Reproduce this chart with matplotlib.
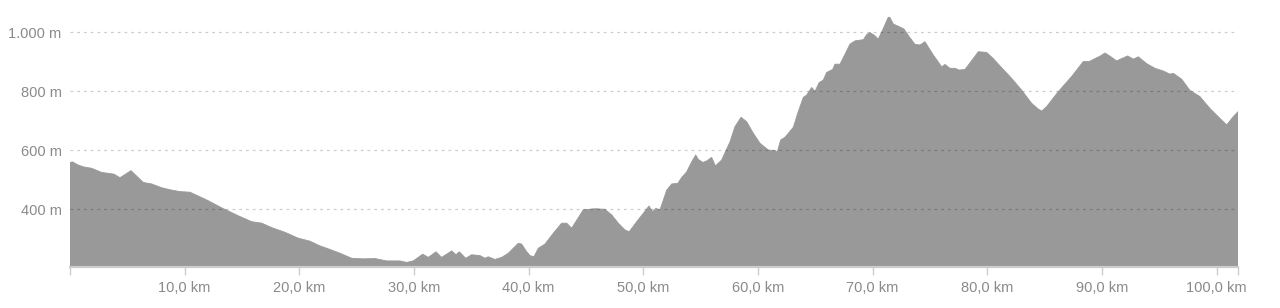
import matplotlib
matplotlib.use("Agg")
import matplotlib.pyplot as plt
from matplotlib.ticker import FixedLocator, FuncFormatter

# elevation profile: distance in km, elevation in m
distance_km = [
    0.0, 0.2, 0.72, 1.16, 1.89, 2.76, 3.34, 3.84, 4.36, 5.32,
    6.39, 7.12, 8.0, 8.87, 9.59, 10.46, 11.19, 12.06, 13.23, 14.68,
    15.85, 16.72, 17.59, 18.75, 19.91, 20.93, 21.8, 22.67, 23.55, 24.57,
    25.58, 26.6, 27.62, 28.78, 29.36, 29.94, 30.76, 31.25, 31.92, 32.41,
    33.29, 33.66, 33.95, 34.51, 35.03, 35.76, 36.19, 36.48, 37.06, 37.65,
    38.22, 39.1, 39.39, 39.83, 40.12, 40.46, 40.84, 41.42, 42.15, 42.88,
    43.32, 43.75, 44.76, 45.78, 46.65, 47.24, 47.82, 48.4, 48.77, 49.42,
    49.99, 50.49, 50.81, 51.1, 51.45, 52.04, 52.48, 53.0, 53.35, 53.78,
    54.22, 54.57, 54.8, 55.18, 55.53, 55.96, 56.28, 56.83, 57.56, 57.99,
    58.52, 59.01, 59.59, 60.17, 60.9, 61.48, 61.68, 61.98, 62.35, 63.08,
    63.51, 63.95, 64.24, 64.68, 64.97, 65.32, 65.69, 65.99, 66.51, 66.71,
    67.15, 67.59, 68.02, 68.46, 69.19, 69.48, 69.77, 70.14, 70.49, 70.93,
    71.36, 71.51, 71.8, 72.32, 72.73, 73.19, 73.69, 74.13, 74.56, 75.29,
    76.02, 76.31, 76.74, 77.18, 77.55, 78.05, 78.77, 79.21, 79.94, 80.52,
    81.1, 82.12, 82.99, 83.87, 84.44, 84.74, 85.17, 86.19, 87.35, 88.37,
    88.89, 89.39, 89.82, 90.26, 90.7, 91.28, 91.72, 92.24, 92.73, 93.17,
    93.89, 94.62, 95.34, 95.93, 96.22, 96.95, 97.67, 98.54, 99.41, 100.29,
    100.87, 101.45, 101.86,
]
elevation_m = [
    558, 561, 550, 544, 539, 525, 522, 519, 507, 531,
    491, 486, 473, 465, 460, 458, 445, 429, 405, 378,
    358, 353, 338, 322, 302, 292, 276, 264, 251, 234,
    232, 233, 225, 225, 220, 225, 248, 237, 256, 237,
    259, 246, 256, 234, 246, 243, 234, 239, 230, 237,
    251, 285, 282, 256, 243, 239, 268, 282, 319, 353,
    353, 336, 398, 402, 400, 381, 353, 330, 324, 358,
    386, 411, 392, 403, 398, 465, 486, 488, 508, 527,
    561, 584, 569, 559, 564, 576, 547, 567, 629, 680,
    712, 697, 658, 624, 601, 599, 595, 635, 644, 678,
    731, 779, 787, 813, 799, 829, 838, 864, 874, 892,
    892, 926, 960, 971, 975, 992, 999, 990, 977, 1013,
    1051, 1050, 1028, 1019, 1011, 985, 959, 957, 968, 923,
    883, 891, 878, 878, 872, 874, 911, 934, 932, 911,
    886, 844, 804, 759, 740, 733, 748, 799, 850, 901,
    901, 911, 919, 930, 919, 903, 911, 920, 909, 917,
    894, 878, 869, 858, 861, 841, 803, 782, 742, 708,
    686, 714, 731,
]

y_ticks = [400, 600, 800, 1000]
x_ticks = [10, 20, 30, 40, 50, 60, 70, 80, 90, 100]

fill_color = "#999999"
text_color = "#8a8a8a"
axis_color = "#cccccc"


def fmt_m(v, pos):
    return f"{int(v):,} m".replace(",", ".")


def fmt_km(v, pos):
    return f"{v:.1f} km".replace(".", ",")


plt.rcParams["font.family"] = ["Liberation Sans", "DejaVu Sans"]

fig = plt.figure(figsize=(12.8, 3.08), dpi=100)
W, H = 1280, 308
left, right = 70, 1238
top, base = 10, 267.3
ax = fig.add_axes([left / W, 1 - base / H, (right - left) / W, (base - top) / H])

ax.fill_between(distance_km, elevation_m, 0, color=fill_color, linewidth=0.6,
                edgecolor=fill_color, zorder=1)

ax.set_xlim(0, distance_km[-1])
ax.set_ylim(203.4, 1075.6)

ax.yaxis.set_major_locator(FixedLocator(y_ticks))
ax.yaxis.set_major_formatter(FuncFormatter(fmt_m))
ax.tick_params(axis="y", length=0, pad=6, labelsize=10.5, labelcolor=text_color)
ax.grid(axis="y", color="black", alpha=0.2, linestyle=(0, (2.2, 3.2)),
        linewidth=0.9, zorder=2)

# ticks on the x axis: every 10 km plus start and end, labels only at 10..100
ax.xaxis.set_major_locator(FixedLocator(x_ticks))
ax.xaxis.set_major_formatter(FuncFormatter(fmt_km))
ax.xaxis.set_minor_locator(FixedLocator([0, distance_km[-1]]))
ax.tick_params(axis="x", which="both", length=6, width=1, color=axis_color,
               pad=4, labelsize=10.5, labelcolor=text_color)

for side in ["top", "right", "left"]:
    ax.spines[side].set_visible(False)
ax.spines["bottom"].set_color(axis_color)
ax.spines["bottom"].set_linewidth(1.6)
ax.set_axisbelow(False)

fig.savefig("out.png", dpi=100)
